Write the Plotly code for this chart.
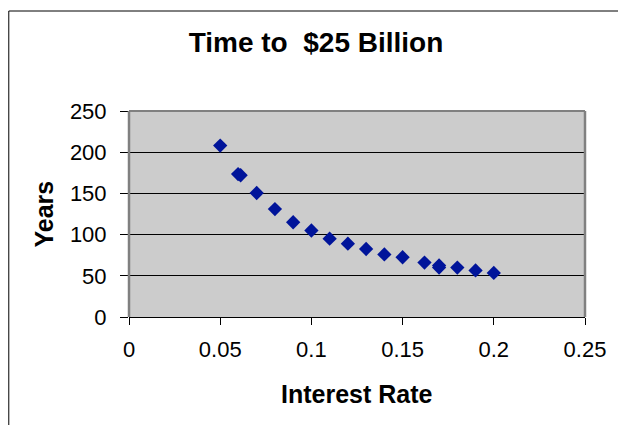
import plotly.graph_objects as go

# Interest rate (as a fraction) and years needed to reach $25 billion
interest_rate = [0.05, 0.0598, 0.0612, 0.07, 0.08, 0.09, 0.10, 0.11, 0.12, 0.13,
                 0.14, 0.15, 0.162, 0.17, 0.17, 0.18, 0.19, 0.20]
years = [208, 173.5, 172, 150.5, 131, 115, 105, 95, 89, 82.5,
         76, 72.5, 66, 62.5, 60, 60, 56.5, 53.5]

x_ticks = [0, 0.05, 0.1, 0.15, 0.2, 0.25]
x_tick_text = ["0", "0.05", "0.1", "0.15", "0.2", "0.25"]
y_ticks = [0, 50, 100, 150, 200, 250]

W, H = 618, 425
L, R, T, B = 129, 30, 111, 108
FONT = "Arial, Liberation Sans, sans-serif"


def px_x(px):
    return (px - L) / (W - L - R)


def px_y(py):
    return (H - B - py) / (H - T - B)


fig = go.Figure(
    go.Scatter(
        x=interest_rate,
        y=years,
        mode="markers",
        marker=dict(symbol="diamond", size=11, color="#00149a",
                    line=dict(width=0)),
        hoverinfo="x+y",
    )
)

fig.update_layout(
    width=W,
    height=H,
    margin=dict(l=L, r=R, t=T, b=B, pad=0),
    paper_bgcolor="white",
    plot_bgcolor="#cccccc",
    showlegend=False,
    font=dict(family=FONT, color="black", size=22),
    title=dict(
        text="Time to  $25 Billion",
        font=dict(family=FONT, size=28, color="black", weight="bold"),
        x=316 / W, xanchor="center",
        y=1 - 42 / H, yanchor="middle",
        xref="container", yref="container",
    ),
    xaxis=dict(
        range=[0, 0.25],
        tickvals=x_ticks,
        ticktext=x_tick_text,
        showgrid=False,
        zeroline=False,
        showline=True,
        linecolor="black",
        linewidth=1,
        ticks="outside",
        ticklen=7,
        tickcolor="black",
        tickwidth=1,
        ticklabelstandoff=6,
        tickfont=dict(size=22, family=FONT),
    ),
    yaxis=dict(
        range=[0, 250],
        tickvals=y_ticks,
        showgrid=True,
        gridcolor="black",
        gridwidth=1,
        zeroline=False,
        showline=False,
        ticks="outside",
        ticklen=8,
        tickcolor="black",
        tickwidth=1,
        ticklabelstandoff=9,
        tickfont=dict(size=22, family=FONT),
    ),
    annotations=[
        dict(text="<b>Interest Rate</b>", xref="paper", yref="paper",
             x=px_x(359), y=px_y(394), xanchor="center", yanchor="middle",
             showarrow=False, font=dict(size=25, family=FONT)),
        dict(text="<b>Years</b>", xref="paper", yref="paper",
             x=px_x(43), y=px_y(214), xanchor="center", yanchor="middle",
             textangle=-90, showarrow=False, font=dict(size=25, family=FONT)),
    ],
    shapes=[
        # gray frame on the left, right and top of the plot area
        dict(type="line", xref="paper", yref="paper", x0=0, x1=0, y0=0, y1=1,
             line=dict(color="#808080", width=2.5), layer="above"),
        dict(type="line", xref="paper", yref="paper", x0=1, x1=1, y0=0, y1=1,
             line=dict(color="#808080", width=2.5), layer="above"),
        dict(type="line", xref="paper", yref="paper", x0=0, x1=1, y0=1, y1=1,
             line=dict(color="#808080", width=2), layer="above"),
        # outer chart border
        dict(type="rect", xref="paper", yref="paper",
             x0=px_x(8), x1=px_x(W + 10), y0=px_y(H + 10), y1=px_y(11),
             line=dict(color="black", width=1), fillcolor="rgba(0,0,0,0)",
             layer="above"),
    ],
)

fig.write_html("out.html")
